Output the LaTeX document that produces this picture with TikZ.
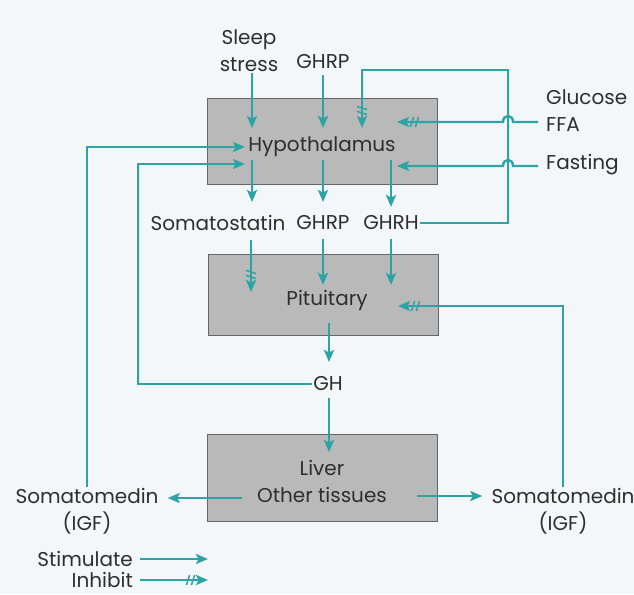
\documentclass[tikz,border=0pt]{standalone}
\usepackage{fontspec}
\setmainfont{Poppins}
\usetikzlibrary{arrows.meta,decorations.markings,positioning}
\definecolor{feedteal}{HTML}{2CA4A5}
\definecolor{organgray}{HTML}{B9B9B9}
\definecolor{labelgray}{HTML}{2E2E2E}
\definecolor{pagebg}{HTML}{F4F7F9}
\tikzset{
  organ/.style={draw=black!60, line width=0.9pt, fill=organgray, minimum width=230pt, inner sep=0pt},
  lbl/.style={text=labelgray, font=\fontsize{20}{27}\selectfont, inner sep=1pt, align=center},
  stim/.style={draw=feedteal, line width=2.4pt, -{Stealth[length=12pt,width=10pt,inset=2.5pt]}},
  inh/.style={stim, decoration={markings,
      mark=at position -15pt with {\draw[feedteal,line width=1.5pt,-] (-1.6pt,-5pt)--(1.6pt,5pt);},
      mark=at position -20pt with {\draw[feedteal,line width=1.5pt,-] (-1.6pt,-5pt)--(1.6pt,5pt);}},
    postaction={decorate}}
}
\begin{document}
\begin{tikzpicture}[x=1pt,y=-1pt]
		%Page and frame
		\fill[pagebg] (0,0) rectangle (634,594);
		\useasboundingbox (0,0) rectangle (634,594);
		%Organs
		\node[organ, minimum height=86pt] (hypo) at (322,141) {};
		\node[organ, minimum height=81pt] (pit) at (323,294.5) {};
		\node[organ, minimum height=87pt] (liver) at (322,477.5) {};
		%Labels
		\node[lbl] (sleep) at (249,51) {Sleep\\stress};
		\node[lbl] (ghrpT) at (323,62) {GHRP};
		\node[lbl, anchor=west, align=left] (glucose) at (545,110.5) {Glucose\\FFA};
		\node[lbl, anchor=west] (fasting) at (545,165) {Fasting};
		\node[lbl] (hypoT) at (322,147) {Hypothalamus};
		\node[lbl] (somato) at (218,223) {Somatostatin};
		\node[lbl] (ghrpM) at (323,223) {GHRP};
		\node[lbl] (ghrh) at (391,223) {GHRH};
		\node[lbl] (pitT) at (327,300) {Pituitary};
		\node[lbl] (gh) at (328,384) {GH};
		\node[lbl] (liverT) at (322,481) {Liver\\Other tissues};
		\node[lbl] (somL) at (87,511.5) {Somatomedin\\(IGF)};
		\node[lbl] (somR) at (563,511.5) {Somatomedin\\(IGF)};
		\node[lbl, anchor=east] (stimT) at (134,559) {Stimulate};
		\node[lbl, anchor=east] (inhT) at (134,580) {Inhibit};
		%Arrow ends
		\coordinate (hSleep) at (252,128);
		\coordinate (hGhrp) at (323,128);
		\coordinate (hFb) at (362,128);
		\coordinate (fbTop) at (362,70);
		\coordinate (fbCorner) at (508,70);
		\coordinate (hFfa) at (397,122);
		\coordinate (ffaS) at (538,122);
		\coordinate (hFast) at (397,166);
		\coordinate (fastS) at (538,166);
		\coordinate (hIgf) at (245,147);
		\coordinate (hGh) at (245,164);
		\coordinate (ghCorner) at (138,164);
		\coordinate (sSom) at (251,240);
		\coordinate (pSom) at (251,292);
		\coordinate (pGhrp) at (323,285);
		\coordinate (pGhrh) at (391,285);
		\coordinate (pIgf) at (398,306);
		\coordinate (pOut) at (329,323);
		\coordinate (lIn) at (329,452);
		\coordinate (lOutL) at (242,498);
		\coordinate (lOutR) at (417,496);
		%Into hypothalamus
		\draw[stim] (sleep.south -| hSleep) -- (hSleep);
		\draw[stim, shorten <=5pt] (ghrpT.south) -- (hGhrp);
		\draw[inh] (ghrh.east) -| (fbCorner) -- (fbTop) -- (hFb);
		\draw[inh] (ffaS) -- ++(-25,0) .. controls +(0,-8) and +(0,-8) .. ++(-10,0) -- (hFfa);
		\draw[stim] (fastS) -- ++(-25,0) .. controls +(0,-8) and +(0,-8) .. ++(-10,0) -- (hFast);
		\draw[stim] (somL.north) |- (hIgf);
		\draw[stim] (gh.west) -| (ghCorner) -- (hGh);
		%Out of hypothalamus
		\foreach \x/\l in {252/42,323/42,391/47}
		\draw[stim] (\x,160) -- ++(0,\l);
		%Into pituitary
		\draw[inh] (sSom) -- (pSom);
		\draw[stim, shorten <=8pt] (ghrpM.south) -- (pGhrp);
		\draw[stim, shorten <=8pt] (ghrh.south -| pGhrh) -- (pGhrh);
		\draw[inh] (somR.north) |- (pIgf);
		%GH to liver and tissues
		\draw[stim] (pOut) -- ++(0,39);
		\draw[stim, shorten <=6pt] (gh.south -| lIn) -- (lIn);
		\draw[stim] (lOutL) -- ([xshift=8pt]somL.east |- lOutL);
		\draw[stim] (lOutR) -- ([xshift=-8pt]somR.west |- lOutR);
		%Legend
		\draw[stim] ([xshift=6pt]stimT.east) -- ++(68,0);
		\draw[inh] ([xshift=6pt]inhT.east) -- ++(68,0);
\end{tikzpicture}
\end{document}
